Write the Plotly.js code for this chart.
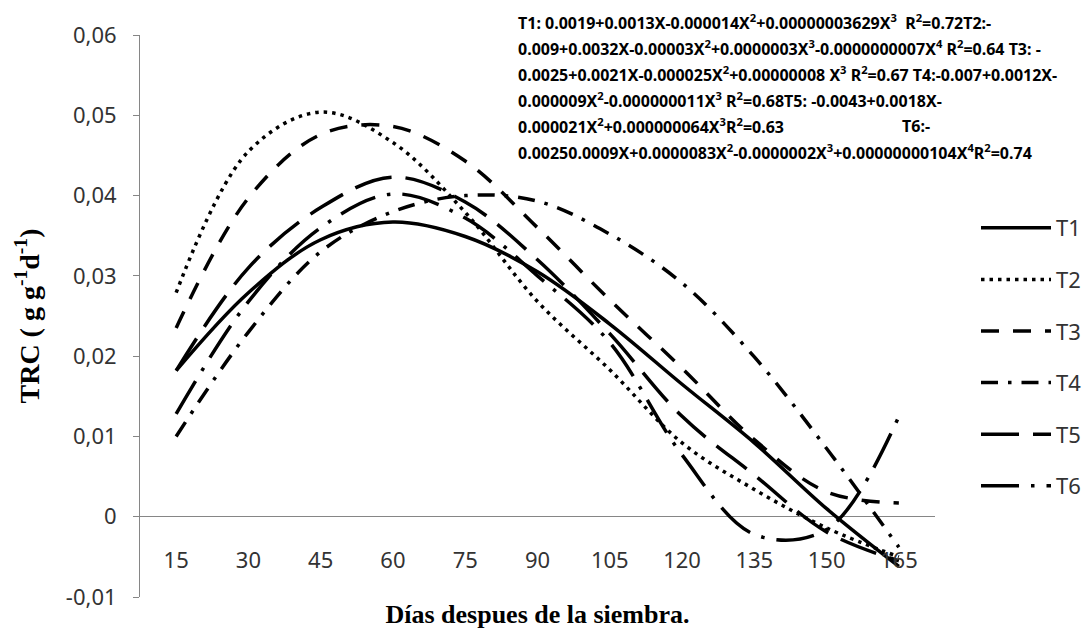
<!DOCTYPE html>
<html>
<head>
<meta charset="utf-8">
<script src="https://cdn.plot.ly/plotly-3.0.1.min.js"></script>
<style>html,body{margin:0;padding:0;background:#fff;}#chart{width:1086px;height:629px;}</style>
</head>
<body>
<div id="chart"></div>
<script>
// Days after sowing (category positions)
const days = [15, 30, 45, 60, 75, 90, 105, 120, 135, 150, 165];
const dayLabels = ['15', '30', '45', '60', '75', '90', '105', '120', '135', '150', '165'];

// TRC values
const T1 = [0.0182, 0.0279, 0.0345, 0.0367, 0.0349, 0.0305, 0.0240, 0.0165, 0.0092, 0.0010, -0.0062];
const T2 = [0.0279, 0.0455, 0.0504, 0.0466, 0.0379, 0.0268, 0.0183, 0.0092, 0.0034, -0.0014, -0.0050];
const T3 = [0.0235, 0.0397, 0.0476, 0.0486, 0.0443, 0.0360, 0.0270, 0.0185, 0.0096, 0.0031, 0.0017];
const T4 = [0.0100, 0.0230, 0.0330, 0.0380, 0.0400, 0.0393, 0.0352, 0.0291, 0.0199, 0.0085, -0.0038];
const T5 = [0.0182, 0.0310, 0.0385, 0.0423, 0.0392, 0.0320, 0.0228, 0.0125, 0.0052, -0.0019, -0.0055];
const T6 = [0.0128, 0.0268, 0.0360, 0.0402, 0.0372, 0.0300, 0.0217, 0.0077, -0.0022, -0.0016, 0.0125];

const seriesNames = ['T1', 'T2', 'T3', 'T4', 'T5', 'T6'];
const seriesValues = [T1, T2, T3, T4, T5, T6];

// Y axis ticks
const yTickVals = [-0.01, 0, 0.01, 0.02, 0.03, 0.04, 0.05, 0.06];
const yTickText = ['-0,01', '0', '0,01', '0,02', '0,03', '0,04', '0,05', '0,06'];

// Regression equations text box
const equationLines = [
  'T1: 0.0019+0.0013X-0.000014X<sup>2</sup>+0.00000003629X<sup>3</sup>  R<sup>2</sup>=0.72T2:-',
  '0.009+0.0032X-0.00003X<sup>2</sup>+0.0000003X<sup>3</sup>-0.0000000007X<sup>4</sup> R<sup>2</sup>=0.64 T3: -',
  '0.0025+0.0021X-0.000025X<sup>2</sup>+0.00000008 X<sup>3</sup> R<sup>2</sup>=0.67 T4:-0.007+0.0012X-',
  '0.000009X<sup>2</sup>-0.000000011X<sup>3</sup> R<sup>2</sup>=0.68T5: -0.0043+0.0018X-',
  '0.000021X<sup>2</sup>+0.000000064X<sup>3</sup>R<sup>2</sup>=0.63',
  '0.00250.0009X+0.0000083X<sup>2</sup>-0.0000002X<sup>3</sup>+0.00000000104X<sup>4</sup>R<sup>2</sup>=0.74'
];
const equationTail = 'T6:-';

const dashes = ['solid', '3.5px,5px', '18px,14px', '17px,10px,3.5px,10px', '38px,14px', '38px,12px,3.5px,12px'];

const traces = seriesNames.map((n, i) => ({
  x: days,
  y: seriesValues[i],
  name: n,
  type: 'scatter',
  mode: 'lines',
  legendgroup: 'g' + i,
  line: {color: '#000', width: 3.5, dash: dashes[i], shape: 'spline', smoothing: 1},
  hoverinfo: 'x+y+name'
}));

// plot area geometry (px) for placing text
const L = 140, R = 151, T = 35, B = 32, W = 1086, H = 629;
const pw = W - L - R, ph = H - T - B;
const px2x = p => (p - L) / pw;
const py2y = p => (H - B - p) / ph;

const rowY = [22, 48, 74, 100, 126, 152];
const eqFont = {family: 'Noto Sans, sans-serif', size: 16, color: '#000'};
const annotations = equationLines.map((t, i) => ({
  xref: 'paper', yref: 'paper', x: px2x(516), y: py2y(rowY[i]),
  xanchor: 'left', yanchor: 'middle', showarrow: false, align: 'left',
  text: '<b>' + t + '</b>', font: eqFont
}));
annotations.push({
  xref: 'paper', yref: 'paper', x: px2x(900), y: py2y(rowY[4]),
  xanchor: 'left', yanchor: 'middle', showarrow: false,
  text: '<b>' + equationTail + '</b>', font: eqFont
});

const layout = {
  width: W, height: H,
  margin: {l: L, r: R, t: T, b: B, pad: 0, autoexpand: false},
  paper_bgcolor: '#fff', plot_bgcolor: '#fff',
  showlegend: true,
  legend: {
    xref: 'container', yref: 'container',
    x: 976 / W, y: 1 - 207 / H, xanchor: 'left', yanchor: 'top',
    traceorder: 'grouped', tracegroupgap: 20, itemwidth: 70,
    font: {family: 'Noto Sans, sans-serif', size: 22, color: '#333'},
    bgcolor: 'rgba(0,0,0,0)', borderwidth: 0
  },
  xaxis: {
    range: [7.5, 172.5],
    tickmode: 'array', tickvals: days, ticktext: dayLabels,
    showline: false, showgrid: false, zeroline: false, ticks: '',
    anchor: 'free', position: 0.092, automargin: false,
    tickfont: {family: 'Noto Sans, sans-serif', size: 22, color: '#333'},
    title: {text: '<b>Días despues de la siembra.</b>', standoff: 38,
      font: {family: 'Liberation Serif, serif', size: 26, color: '#000'}}
  },
  yaxis: {
    range: [-0.01, 0.06], automargin: false,
    tickmode: 'array', tickvals: yTickVals, ticktext: yTickText,
    showline: true, linecolor: '#868686', linewidth: 1,
    ticks: 'outside', ticklen: 6, tickcolor: '#868686', ticklabelstandoff: 12,
    showgrid: false, zeroline: true, zerolinecolor: '#868686', zerolinewidth: 1,
    tickfont: {family: 'Noto Sans, sans-serif', size: 22, color: '#333'},
    title: {text: '<b>TRC ( g g<sup>-1</sup>d<sup>-1</sup>)</b>', standoff: 18,
      font: {family: 'Liberation Serif, serif', size: 28, color: '#000'}}
  },
  annotations: annotations
};

Plotly.newPlot('chart', traces, layout, {displayModeBar: false, staticPlot: true});
</script>
</body>
</html>
